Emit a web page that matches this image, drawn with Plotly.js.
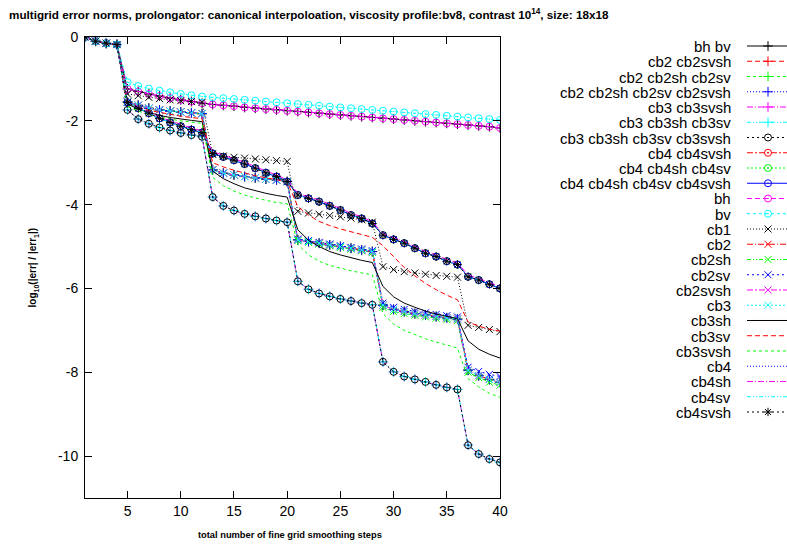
<!DOCTYPE html>
<html>
<head>
<meta charset="utf-8">
<script src="https://cdn.plot.ly/plotly-3.0.1.min.js"></script>
<style>html,body{margin:0;padding:0;background:#fff;}#chart{width:787px;height:544px;}</style>
</head>
<body>
<div id="chart"></div>
<script>
// ---- data (log10 of relative error norm vs. smoothing step) ----
const steps = [1,2,3,4,5,6,7,8,9,10,11,12,13,14,15,16,17,18,19,20,21,22,23,24,25,26,27,28,29,30,31,32,33,34,35,36,37,38,39,40];

const errBv = [0,-0.1,-0.15,-0.18,-1.08,-1.17,-1.23,-1.28,-1.32,-1.36,-1.39,-1.42,-1.44,-1.46,-1.48,-1.5,-1.52,-1.54,-1.56,-1.58,-1.6,-1.62,-1.64,-1.66,-1.68,-1.7,-1.72,-1.74,-1.76,-1.78,-1.8,-1.82,-1.84,-1.86,-1.88,-1.9,-1.92,-1.94,-1.96,-1.98];
const errBh = [0,-0.1,-0.15,-0.18,-1.24,-1.3,-1.36,-1.41,-1.46,-1.5,-1.54,-1.58,-1.61,-1.63,-1.65,-1.68,-1.7,-1.72,-1.74,-1.76,-1.78,-1.8,-1.82,-1.84,-1.86,-1.88,-1.9,-1.92,-1.94,-1.96,-1.98,-2.0,-2.02,-2.04,-2.06,-2.08,-2.1,-2.12,-2.14,-2.17];
const errCb1 = [0,-0.1,-0.15,-0.18,-1.36,-1.4,-1.44,-1.47,-1.5,-1.52,-1.54,-1.56,-2.8,-2.84,-2.87,-2.89,-2.91,-2.93,-2.95,-2.97,-4.16,-4.2,-4.23,-4.26,-4.29,-4.32,-4.36,-4.42,-5.48,-5.55,-5.6,-5.63,-5.66,-5.69,-5.71,-5.73,-6.88,-6.93,-6.98,-7.03];
const errCb2 = [0,-0.1,-0.15,-0.18,-1.55,-1.63,-1.7,-1.74,-1.77,-1.79,-1.81,-1.83,-3.17,-3.25,-3.29,-3.33,-3.36,-3.39,-3.41,-3.45,-4.84,-4.88,-4.92,-4.96,-5.0,-5.04,-5.08,-5.12,-6.4,-6.5,-6.55,-6.6,-6.63,-6.67,-6.7,-6.73,-7.95,-8.08,-8.17,-8.24];
const errCb2sh = [0,-0.1,-0.15,-0.18,-1.55,-1.63,-1.7,-1.74,-1.77,-1.79,-1.81,-1.83,-3.17,-3.25,-3.29,-3.33,-3.36,-3.39,-3.41,-3.45,-4.86,-4.9,-4.94,-4.98,-5.02,-5.06,-5.1,-5.14,-6.45,-6.55,-6.6,-6.64,-6.68,-6.71,-6.74,-6.77,-8.0,-8.13,-8.24,-8.31];
const errCb2sv = [0,-0.1,-0.15,-0.18,-1.55,-1.63,-1.7,-1.74,-1.77,-1.79,-1.81,-1.83,-3.17,-3.25,-3.29,-3.33,-3.36,-3.39,-3.41,-3.45,-4.82,-4.86,-4.9,-4.94,-4.98,-5.02,-5.06,-5.1,-6.35,-6.45,-6.5,-6.55,-6.58,-6.62,-6.65,-6.68,-7.88,-7.98,-8.05,-8.1];
const errCb3Combo = [0,-0.1,-0.15,-0.18,-1.74,-1.96,-2.07,-2.16,-2.23,-2.29,-2.34,-2.38,-3.82,-4.03,-4.14,-4.22,-4.28,-4.33,-4.38,-4.42,-5.83,-6.02,-6.12,-6.19,-6.25,-6.3,-6.35,-6.39,-7.75,-7.99,-8.1,-8.17,-8.23,-8.3,-8.36,-8.41,-9.74,-9.95,-10.07,-10.15];
const errCb3sh = [0,-0.1,-0.15,-0.18,-1.6,-1.72,-1.8,-1.87,-1.92,-1.96,-1.99,-2.02,-3.2,-3.38,-3.5,-3.6,-3.67,-3.73,-3.78,-3.82,-4.6,-4.85,-5.0,-5.12,-5.2,-5.27,-5.33,-5.38,-5.95,-6.2,-6.35,-6.45,-6.54,-6.61,-6.67,-6.72,-7.25,-7.45,-7.57,-7.66];
const errCb3sv = [0,-0.1,-0.15,-0.18,-1.58,-1.68,-1.75,-1.8,-1.85,-1.89,-1.92,-1.95,-3.0,-3.1,-3.18,-3.25,-3.31,-3.36,-3.41,-3.45,-4.05,-4.25,-4.4,-4.5,-4.58,-4.65,-4.72,-4.78,-4.98,-5.25,-5.5,-5.7,-5.88,-6.03,-6.16,-6.27,-6.8,-6.9,-6.97,-7.02];
const errCb3svsh = [0,-0.1,-0.15,-0.18,-1.65,-1.77,-1.85,-1.91,-1.96,-2.0,-2.03,-2.06,-3.35,-3.55,-3.68,-3.77,-3.84,-3.9,-3.95,-3.98,-4.95,-5.2,-5.35,-5.45,-5.52,-5.58,-5.63,-5.67,-6.6,-6.85,-7.0,-7.1,-7.2,-7.28,-7.35,-7.42,-8.15,-8.35,-8.5,-8.6];
const errCb4 = [0,-0.1,-0.15,-0.18,-1.56,-1.7,-1.82,-1.94,-2.04,-2.13,-2.21,-2.28,-2.78,-2.86,-2.94,-3.03,-3.13,-3.24,-3.33,-3.45,-3.77,-3.85,-3.93,-4.03,-4.13,-4.25,-4.33,-4.45,-4.73,-4.83,-4.92,-5.04,-5.16,-5.24,-5.35,-5.43,-5.72,-5.8,-5.9,-6.0];
const errCb4sh = [0,-0.1,-0.15,-0.18,-1.53,-1.67,-1.79,-1.91,-2.0,-2.09,-2.17,-2.24,-2.74,-2.82,-2.9,-2.99,-3.09,-3.2,-3.29,-3.41,-3.73,-3.81,-3.89,-3.99,-4.09,-4.21,-4.29,-4.41,-4.69,-4.79,-4.88,-5.0,-5.12,-5.2,-5.31,-5.39,-5.68,-5.76,-5.86,-5.96];

const seriesNames = ["bh bv","cb2 cb2svsh","cb2 cb2sh cb2sv","cb2 cb2sh cb2sv cb2svsh","cb3 cb3svsh","cb3 cb3sh cb3sv","cb3 cb3sh cb3sv cb3svsh","cb4 cb4svsh","cb4 cb4sh cb4sv","cb4 cb4sh cb4sv cb4svsh","bh","bv","cb1","cb2","cb2sh","cb2sv","cb2svsh","cb3","cb3sh","cb3sv","cb3svsh","cb4","cb4sh","cb4sv","cb4svsh"];
const seriesValues = [errBh,errCb2,errCb2,errCb2,errCb3Combo,errCb3Combo,errCb3Combo,errCb4,errCb4,errCb4,errBh,errBv,errCb1,errCb2,errCb2sh,errCb2sv,errCb2,errCb2,errCb3sh,errCb3sv,errCb3svsh,errCb4,errCb4sh,errCb4,errCb4];

// ---- styles ----
const K='#000000',R='#ff0000',G='#00ff00',B='#0000ff',M='#ff00ff',C='#00ffff';
const colors = [K,R,G,B,M,C,K,R,G,B,M,C,K,R,G,B,M,C,K,R,G,B,M,C,K];
const dashPat = ['solid','5px,3px','3px,3px','1px,2px','6px,2px,1px,2px','4px,2px,1px,2px,1px,2px','2px,3px','6px,2px,2px,2px','2px,2px'];
const dashes = seriesNames.map((_,i)=>dashPat[i%9]);
const symbols = seriesNames.map((_,i)=> i<6?'cross-thin-open': i<12?'circle-open-dot': i<18?'x-thin-open': i<24?null:'asterisk-open');

const FONT = 'Liberation Sans, Arial, Helvetica, sans-serif';
const traces = [];
const annotations = [];
seriesNames.forEach((nm,i)=>{
  const sym = symbols[i];
  const main = {
    x: steps, y: seriesValues[i], xaxis:'x', yaxis:'y',
    type:'scatter', mode: sym?'lines+markers':'lines', name: nm, showlegend:false,
    line:{color:colors[i], width:1, dash:dashes[i]}, hoverinfo:'skip'
  };
  const sample = {
    x:[0,0.525,1], y:[i,i,i], xaxis:'x2', yaxis:'y2', type:'scatter',
    mode: sym?'lines+markers':'lines', showlegend:false, hoverinfo:'skip', cliponaxis:false,
    line:{color:colors[i], width:1, dash:dashes[i]}
  };
  if (sym) {
    main.marker = {symbol:sym, size:7, color:colors[i], line:{color:colors[i], width:1}};
    sample.marker = {symbol:sym, size:7, color:colors[i], opacity:[0,1,0], line:{color:colors[i], width:1}};
  }
  traces.push(main);
  traces.push(sample);
  annotations.push({text:nm, xref:'paper', yref:'y2', x:0.9231, y:i, xanchor:'right', yanchor:'middle',
    height:14, valign:'middle', showarrow:false, font:{family:FONT, size:15, color:'#000'}});
});

annotations.push({text:'<b>total number of fine grid smoothing steps</b>', xref:'paper', yref:'paper',
  x:0.292, y:-0.0803, xanchor:'center', yanchor:'middle', showarrow:false, font:{family:FONT,size:9.3,color:'#000'}});
annotations.push({text:'<b>log<sub>10</sub>(|err| / |err<sub>1</sub>|)</b>', xref:'paper', yref:'paper',
  x:-0.0741, y:0.5, xanchor:'center', yanchor:'middle', textangle:-90, showarrow:false, font:{family:FONT,size:10,color:'#000'}});

const xTicks=[5,10,15,20,25,30,35,40];
const yTicks=[0,-2,-4,-6,-8,-10];
const axisCommon = {ticks:'inside', ticklen:7, tickcolor:'#000', tickwidth:1, showline:true, mirror:'ticks',
  linecolor:'#000', linewidth:1, showgrid:false, zeroline:false, tickfont:{family:FONT,size:14,color:'#000'}};

const layout = {
  width:787, height:544,
  margin:{l:85, r:0, t:37, b:46},
  paper_bgcolor:'#fff', plot_bgcolor:'#fff',
  title:{text:'<b>multigrid error norms, prolongator: canonical interpoloation, viscosity profile:bv8, contrast 10<sup>14</sup>, size: 18x18</b>',
    xref:'container', yref:'container', x:9/787, xanchor:'left', y:1-15/544, yanchor:'middle',
    font:{family:FONT, size:11.7, color:'#000'}},
  xaxis:Object.assign({}, axisCommon, {domain:[0,415/702], range:[1,40], tickmode:'array', tickvals:xTicks, ticktext:xTicks.map(String)}),
  yaxis:Object.assign({}, axisCommon, {range:[-11,0], tickmode:'array', tickvals:yTicks, ticktext:yTicks.map(String), ticklabelstandoff:3}),
  xaxis2:{domain:[662/702,1], range:[0,1], visible:false, fixedrange:true},
  yaxis2:{anchor:'x2', domain:[0,1], range:[29.64,-0.59], visible:false, fixedrange:true},
  annotations: annotations,
  showlegend:false
};
Plotly.newPlot('chart', traces, layout, {staticPlot:true, displayModeBar:false});
</script>
</body>
</html>
